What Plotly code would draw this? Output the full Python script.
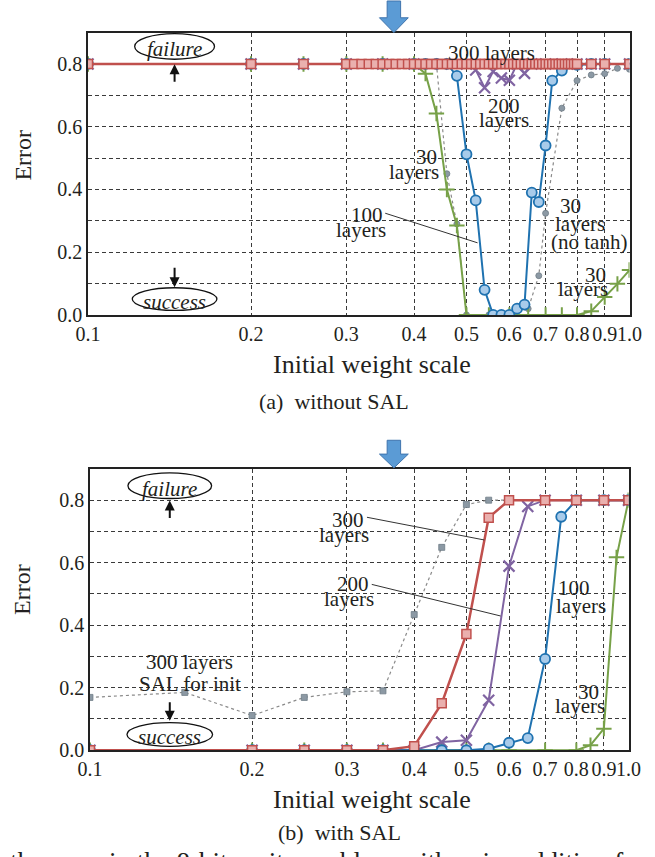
import math
import plotly.graph_objects as go

W, H = 655, 857
FONT = "Liberation Serif, Times New Roman, Times, DejaVu Serif, serif"
TXT = "#231f20"

# ---------------- data: (a) without SAL ----------------
a_red300_x = [0.1, 0.2, 0.25,
              0.30, 0.31, 0.32, 0.33, 0.34, 0.35, 0.36, 0.37, 0.38, 0.39,
              0.40, 0.41, 0.42, 0.43, 0.44, 0.45, 0.46, 0.47, 0.48, 0.49,
              0.50, 0.51, 0.52, 0.53, 0.54, 0.55, 0.56, 0.57, 0.58, 0.59,
              0.60, 0.61, 0.62, 0.63, 0.64, 0.65, 0.66, 0.67, 0.68, 0.69,
              0.70, 0.71, 0.72, 0.73, 0.74, 0.75, 0.76, 0.77, 0.78, 0.79,
              0.80, 0.85, 0.9, 1.0]
a_red300_y = [0.8] * len(a_red300_x)

a_blue100_x = [0.1, 0.2, 0.25, 0.3, 0.35, 0.4, 0.42, 0.44, 0.46, 0.48, 0.5, 0.52, 0.54,
               0.56, 0.58, 0.6, 0.62, 0.64, 0.66, 0.68, 0.7, 0.72, 0.75, 0.8, 0.85, 0.9, 1.0]
a_blue100_y = [0.8, 0.8, 0.8, 0.8, 0.8, 0.8, 0.8, 0.8, 0.8, 0.762, 0.512, 0.365, 0.08,
               0.0, 0.0, 0.0, 0.02, 0.033, 0.39, 0.36, 0.54, 0.747, 0.779, 0.797, 0.8, 0.8, 0.8]

a_purple200_x = [0.1, 0.2, 0.25, 0.3, 0.35, 0.4, 0.45, 0.5, 0.52, 0.54, 0.56, 0.58, 0.6,
                 0.62, 0.64, 0.66, 0.7, 0.75, 0.8, 0.85, 0.9, 1.0]
a_purple200_y = [0.8, 0.8, 0.8, 0.8, 0.8, 0.8, 0.8, 0.8, 0.781, 0.724, 0.776, 0.755, 0.748,
                 0.8, 0.770, 0.8, 0.8, 0.8, 0.8, 0.8, 0.8, 0.8]

a_green30_x = [0.1, 0.2, 0.25, 0.3, 0.35, 0.4, 0.42, 0.44, 0.46, 0.48, 0.5, 0.55, 0.6,
               0.65, 0.7, 0.75, 0.8, 0.85, 0.9, 0.95, 1.0]
a_green30_y = [0.8, 0.8, 0.8, 0.8, 0.8, 0.8, 0.769, 0.642, 0.40, 0.285, 0.0, 0.0, 0.0,
               0.0, 0.0, 0.0, 0.0, 0.012, 0.057, 0.099, 0.143]

a_gray_x = [0.1, 0.2, 0.25, 0.3, 0.32, 0.34, 0.36, 0.38, 0.4, 0.42, 0.44, 0.46, 0.48, 0.5,
            0.55, 0.6, 0.65, 0.68, 0.7, 0.75, 0.8, 0.85, 0.9, 0.95, 1.0]
a_gray_y = [0.8, 0.8, 0.8, 0.8, 0.8, 0.8, 0.8, 0.8, 0.8, 0.8, 0.8, 0.45, 0.29, 0.0,
            0.0, 0.0, 0.02, 0.125, 0.324, 0.659, 0.747, 0.765, 0.769, 0.786, 0.783]

# ---------------- data: (b) with SAL ----------------
b_gray_x = [0.1, 0.15, 0.2, 0.25, 0.3, 0.35, 0.4, 0.45, 0.5, 0.55, 0.6, 0.7, 0.8, 0.9, 1.0]
b_gray_y = [0.169, 0.185, 0.111, 0.169, 0.187, 0.19, 0.434, 0.649, 0.786, 0.80, 0.8, 0.8, 0.8, 0.8, 0.8]

b_red300_x = [0.1, 0.2, 0.25, 0.3, 0.35, 0.4, 0.45, 0.5, 0.55, 0.6, 0.7, 0.8, 0.9, 1.0]
b_red300_y = [0.0, 0.0, 0.0, 0.0, 0.0, 0.013, 0.15, 0.372, 0.744, 0.8, 0.8, 0.8, 0.8, 0.8]

b_purple200_x = [0.1, 0.2, 0.25, 0.3, 0.35, 0.4, 0.45, 0.5, 0.55, 0.6, 0.65, 0.7, 0.8, 0.9, 1.0]
b_purple200_y = [0.0, 0.0, 0.0, 0.0, 0.0, 0.0, 0.026, 0.032, 0.16, 0.589, 0.78, 0.8, 0.8, 0.8, 0.8]

b_blue100_x = [0.1, 0.2, 0.25, 0.3, 0.35, 0.4, 0.45, 0.5, 0.55, 0.6, 0.65, 0.7, 0.75, 0.8, 0.9, 1.0]
b_blue100_y = [0.0, 0.0, 0.0, 0.0, 0.0, 0.0, 0.0, 0.0, 0.005, 0.024, 0.039, 0.292, 0.747, 0.8, 0.8, 0.8]

b_green30_x = [0.1, 0.2, 0.25, 0.3, 0.35, 0.4, 0.45, 0.5, 0.55, 0.6, 0.7, 0.8, 0.85, 0.9, 0.95, 1.0]
b_green30_y = [0.0, 0.0, 0.0, 0.0, 0.0, 0.0, 0.0, 0.0, 0.0, 0.0, 0.0, 0.0, 0.016, 0.069, 0.617, 0.8]

x_tickvals = [0.1, 0.2, 0.3, 0.4, 0.5, 0.6, 0.7, 0.8, 0.9, 1.0]
x_ticktext = ["0.1", "0.2", "0.3", "0.4", "0.5", "0.6", "0.7", "0.8", "0.9", "1.0"]
y_tickvals = [0.0, 0.1, 0.2, 0.3, 0.4, 0.5, 0.6, 0.7, 0.8]
y_ticktext = ["0.0", "", "0.2", "", "0.4", "", "0.6", "", "0.8"]
marked_scale = 0.368  # solid vertical line under the blue arrow

RED, RED_F = "#c0504d", "#eab0ae"
BLUE, BLUE_F = "#1f72b0", "#a8cbea"
PURPLE = "#8064a2"
GREEN = "#77a148"
GRAY, GRAY_M = "#8a8a8a", "#8c99a4"

# subplot pixel boxes (left, right, top, bottom)
BOX = {1: (78, 641, 33, 319), 2: (80, 640, 475, 760)}
YMAX = 0.9
DROP = 4  # annotation box centre sits below the visual centre of the glyphs


def px(x):
    return x / W


def py(y):
    return 1 - y / H


fig = go.Figure()


def add_series(xs, ys, kind, ax):
    xa, ya = ("x", "y") if ax == 1 else ("x2", "y2")
    if kind == "red":
        line = dict(color=RED, width=2.5)
        marker = dict(symbol="square", size=9, color=RED_F, line=dict(color=RED, width=1.5))
    elif kind == "blue":
        line = dict(color=BLUE, width=2)
        marker = dict(symbol="circle", size=10, color=BLUE_F, line=dict(color=BLUE, width=1.8))
    elif kind == "purple":
        line = dict(color=PURPLE, width=2)
        marker = dict(symbol="x-thin", size=11, color=PURPLE, line=dict(color=PURPLE, width=2.2))
    elif kind == "green":
        line = dict(color=GREEN, width=2)
        marker = dict(symbol="cross-thin", size=11, color=GREEN, line=dict(color=GREEN, width=2))
    else:
        line = dict(color=GRAY, width=1.2, dash="dot")
        sym = "circle" if ax == 1 else "square"
        marker = dict(symbol=sym, size=6, color=GRAY_M, line=dict(color="#6f7c86", width=0.8))
    fig.add_trace(go.Scatter(x=xs, y=ys, mode="lines+markers", line=line, marker=marker,
                             xaxis=xa, yaxis=ya, showlegend=False, hoverinfo="skip"))


add_series(a_gray_x, a_gray_y, "gray", 1)
add_series(a_green30_x, a_green30_y, "green", 1)
add_series(a_purple200_x, a_purple200_y, "purple", 1)
add_series(a_blue100_x, a_blue100_y, "blue", 1)
add_series(a_red300_x, a_red300_y, "red", 1)

add_series(b_gray_x, b_gray_y, "gray", 2)
add_series(b_green30_x, b_green30_y, "green", 2)
add_series(b_purple200_x, b_purple200_y, "purple", 2)
add_series(b_blue100_x, b_blue100_y, "blue", 2)
add_series(b_red300_x, b_red300_y, "red", 2)

xcommon = dict(type="log", range=[-1, 0.0001], tickvals=x_tickvals, ticktext=x_ticktext,
               tickangle=0,
               showgrid=True, gridcolor="#3a3a3a", gridwidth=1, griddash="4px,3px",
               showline=True, linecolor="#222", linewidth=1.6, mirror=True, ticks="",
               tickfont=dict(family=FONT, size=20, color=TXT), zeroline=False)
ycommon = dict(range=[0, YMAX], tickvals=y_tickvals, ticktext=y_ticktext,
               showgrid=True, gridcolor="#3a3a3a", gridwidth=1, griddash="4px,3px",
               showline=True, linecolor="#222", linewidth=1.6, mirror=True, ticks="",
               tickfont=dict(family=FONT, size=20, color=TXT), zeroline=False)

fig.update_layout(
    width=W, height=H, margin=dict(l=0, r=0, t=0, b=0),
    paper_bgcolor="white", plot_bgcolor="white",
    xaxis=dict(domain=[px(78), px(641)], anchor="y", **xcommon),
    yaxis=dict(domain=[py(319), py(33)], anchor="x", **ycommon),
    xaxis2=dict(domain=[px(80), px(640)], anchor="y2", **xcommon),
    yaxis2=dict(domain=[py(760), py(475)], anchor="x2", **ycommon),
)

annots = []
shapes = []


def text(s, x, y, size=21, anchor="center", italic=False, angle=0, yanchor="middle", drop=True):
    yy = y + (DROP if (drop and angle == 0) else 0)
    annots.append(dict(text=s, x=px(x), y=py(yy), xref="paper", yref="paper",
                       xanchor=anchor, yanchor=yanchor, showarrow=False, textangle=angle,
                       font=dict(family=FONT, size=size, color=TXT,
                                 style="italic" if italic else "normal"),
                       borderpad=0))


def mask(sub, x0, y0, x1, y1):
    """white patch between gridlines and traces, corners given in picture pixels"""
    l, r, t, b = BOX[sub]
    xr, yr = ("x", "y") if sub == 1 else ("x2", "y2")

    def lx(p):
        return -1 + (p - l) / (r - l)

    def dy(p):
        return (b - p) / (b - t) * YMAX
    shapes.append(dict(type="rect", xref=xr, yref=yr,
                       x0=lx(x0), x1=lx(x1), y0=dy(y1), y1=dy(y0),
                       fillcolor="white", line=dict(width=0), layer="between"))


def label(sub, s, x, y, anchor="center", size=21):
    wpx = len(s) * size * 0.46
    if anchor == "center":
        x0 = x - wpx / 2
    elif anchor == "right":
        x0 = x - wpx
    else:
        x0 = x
    mask(sub, x0 - 1, y - size * 0.42, x0 + wpx + 1, y + size * 0.42)
    text(s, x, y, size=size, anchor=anchor)


def seg(x0, y0, x1, y1, w=1.0, color="#333"):
    shapes.append(dict(type="line", xref="paper", yref="paper",
                       x0=px(x0), y0=py(y0), x1=px(x1), y1=py(y1),
                       line=dict(color=color, width=w), layer="above"))


def ellipse(cx, cy, w, h):
    shapes.append(dict(type="circle", xref="paper", yref="paper",
                       x0=px(cx - w / 2), x1=px(cx + w / 2), y0=py(cy + h / 2), y1=py(cy - h / 2),
                       line=dict(color="#111", width=1.3), fillcolor="white", layer="above"))


def arrow(x, y_tip, y_tail):
    annots.append(dict(text="", x=px(x), y=py(y_tip), xref="paper", yref="paper",
                       ax=0, ay=(y_tail - y_tip), showarrow=True, arrowhead=2,
                       arrowsize=1, arrowwidth=2, arrowcolor="#111"))


def blue_arrow(top, head, tip, cx):
    pts = [(cx - 7, top), (cx + 7, top), (cx + 7, head), (cx + 15, head), (cx, tip),
           (cx - 15, head), (cx - 7, head)]
    path = "M " + " L ".join(f"{px(a):.5f},{py(b):.5f}" for a, b in pts) + " Z"
    shapes.append(dict(type="path", xref="paper", yref="paper", path=path,
                       fillcolor="#5b9bd5", line=dict(color="#3f74ad", width=1), layer="above"))


# marked vertical lines
for xr, yr in [("x", "y domain"), ("x2", "y2 domain")]:
    shapes.append(dict(type="line", xref=xr, yref=yr, x0=math.log10(marked_scale),
                       x1=math.log10(marked_scale), y0=0, y1=1,
                       line=dict(color="#111", width=1.2), layer="below"))

blue_arrow(1, 18, 33, 396)
blue_arrow(446, 460, 474, 396)

# ---- (a) labels ----
ellipse(168, 47, 83, 26)
text("failure", 168, 46, size=21, italic=True)
arrow(168, 65, 84)
ellipse(168, 303, 88, 23)
text("success", 168, 302, size=21, italic=True)
arrow(168, 291, 270)

label(1, "300 layers", 498, 50)
label(1, "200", 510, 103)
label(1, "layers", 510, 118)
label(1, "30", 442, 155, anchor="right")
label(1, "layers", 444, 170, anchor="right")
seg(387, 216, 483, 246)
label(1, "100", 386, 214, anchor="right")
label(1, "layers", 389, 229, anchor="right")
label(1, "30", 580, 205)
label(1, "layers", 590, 223)
label(1, "(no tanh)", 599, 241)
label(1, "30", 618, 275, anchor="right")
label(1, "layers", 620, 289, anchor="right")

text("Error", 10, 157, size=24, angle=-90)
text("Initial weight scale", 373, 365, size=26)
text("(a)  without SAL", 334, 403, size=22)

# ---- (b) labels ----
ellipse(163, 492, 87, 26)
text("failure", 163, 491, size=21, italic=True)
arrow(163, 507, 526)
ellipse(163, 744, 89, 24)
text("success", 163, 743, size=21, italic=True)
arrow(163, 730, 710)

label(2, "300 layers", 184, 667)
label(2, "SAL for init", 184, 689)
seg(368, 524, 490, 547)
label(2, "300", 348, 523)
label(2, "layers", 344, 538)
seg(373, 592, 507, 624)
label(2, "200", 353, 588)
label(2, "layers", 349, 603)
label(2, "100", 583, 592)
label(2, "layers", 591, 610)
label(2, "30", 598, 697)
label(2, "layers", 590, 711)

text("Error", 10, 597, size=24, angle=-90)
text("Initial weight scale", 373, 806, size=26)
text("the error in the 8-bit parity problem with noise addition for", 328, 857, size=27,
     yanchor="top", drop=False)
text("(b)  with SAL", 339, 839, size=22)

fig.update_layout(annotations=annots, shapes=shapes)
fig.write_html("out.html", config={"displayModeBar": False},
               post_script="document.body.style.margin='0';document.body.style.overflow='hidden';")
